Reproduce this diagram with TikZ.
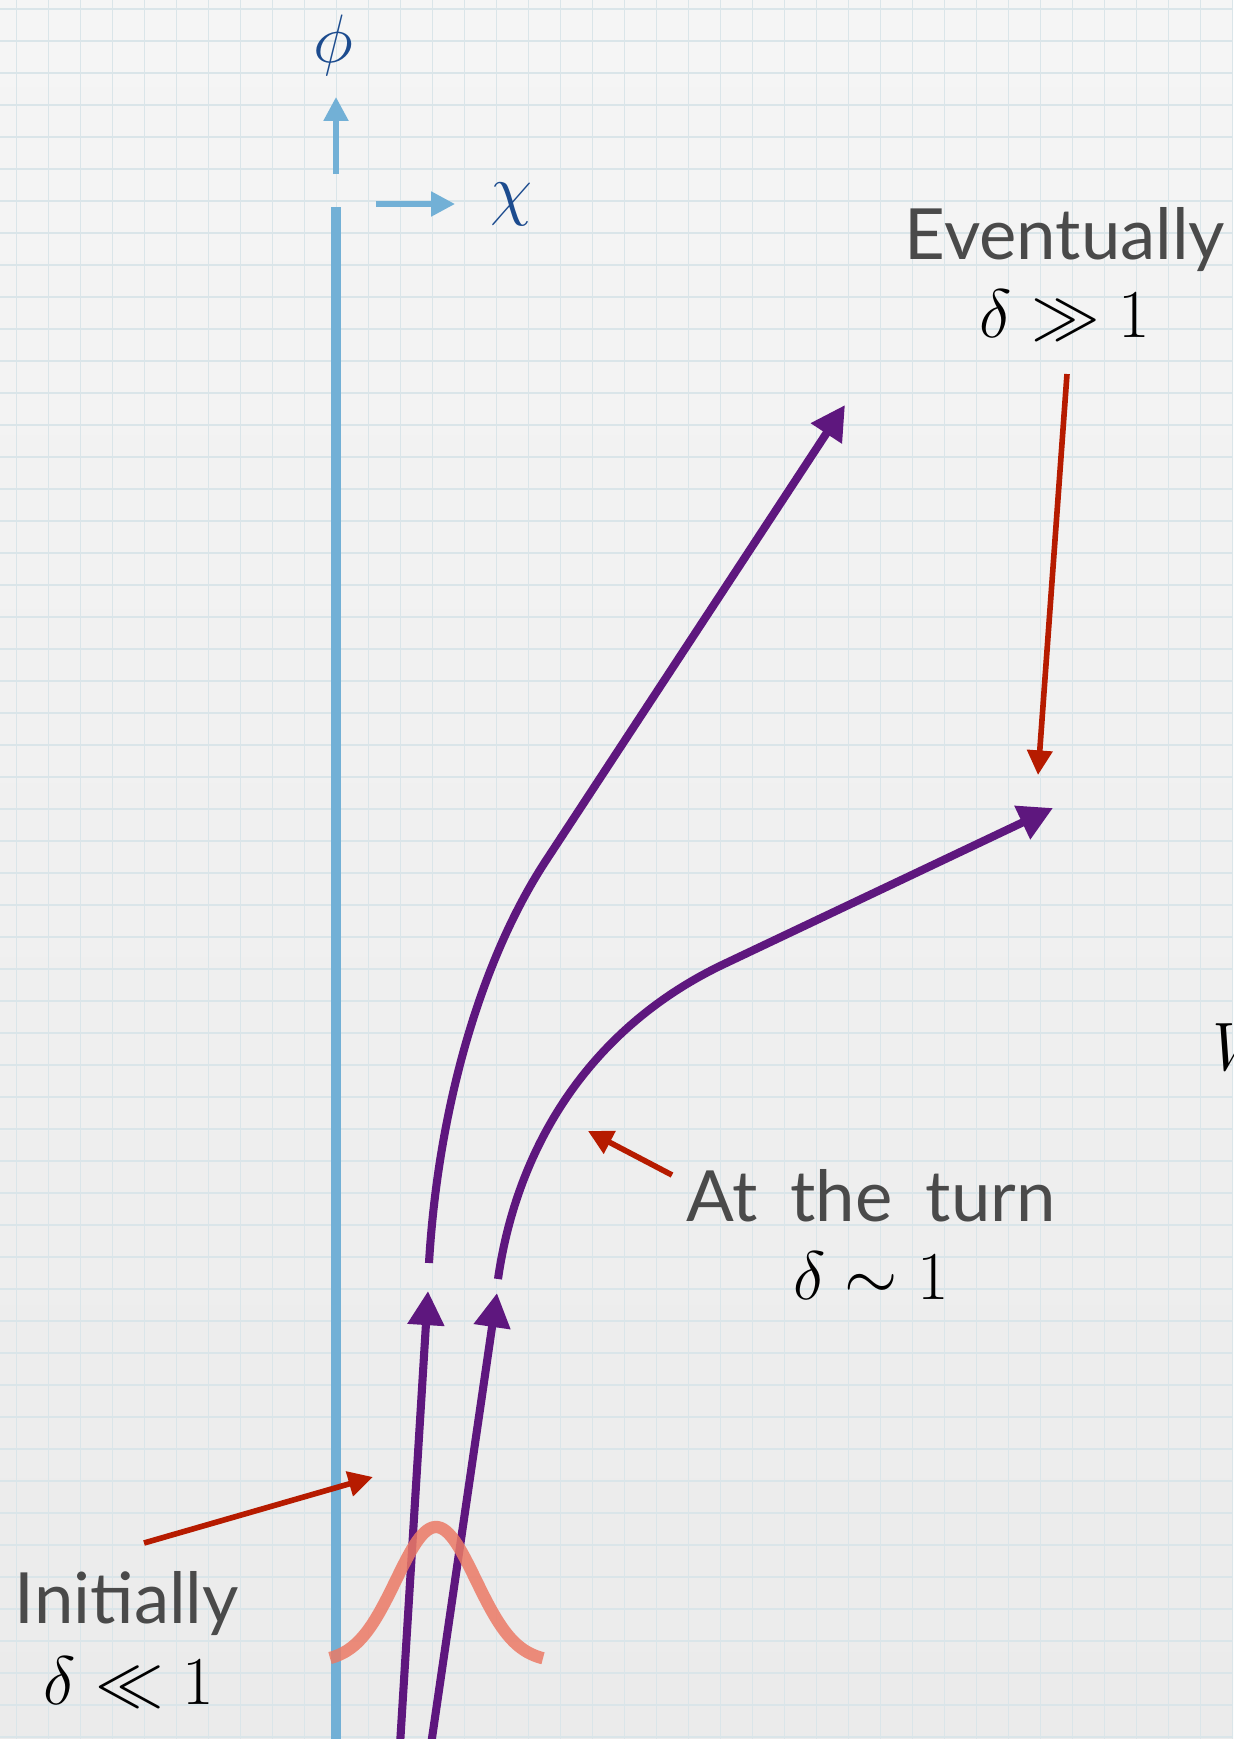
\RequirePackage{fix-cm}
\documentclass[tikz,border=0pt]{standalone}
\usepackage[no-math]{fontspec}
\newfontfamily\labelfont{Lato}
\usetikzlibrary{arrows.meta}
\definecolor{bgtop}{HTML}{F5F5F5}
\definecolor{bgbot}{HTML}{EBEBEB}
\definecolor{gridc}{HTML}{DAE5E9}
\definecolor{axisblue}{HTML}{72B0D6}
\definecolor{labblue}{HTML}{1C4B8E}
\definecolor{traj}{HTML}{5E177E}
\definecolor{pointer}{HTML}{B61B00}
\definecolor{gauss}{HTML}{EB7A66}
\definecolor{txtgrey}{HTML}{4A4A4A}
\begin{document}
\begin{tikzpicture}[x=0.1mm,y=-0.1mm,
  gridline/.style={draw=gridc, line width=0.55pt},
  axisline/.style={draw=axisblue, line width=2.85pt},
  axisarrow/.style={draw=axisblue, line width=1.5pt, -{Triangle[length=6.8pt,width=6.8pt]}},
  axislabel/.style={text=labblue, font=\fontsize{19.5}{23}\selectfont, inner sep=0pt, anchor=base},
  trajline/.style={draw=traj, line width=2.3pt, -{Triangle[length=9.7pt,width=10pt]}},
  pointerline/.style={draw=pointer, line width=1.6pt, -{Triangle[length=7pt,width=7pt]}},
  wordlabel/.style={text=txtgrey, font=\labelfont\fontsize{20.1}{24}\selectfont, inner sep=0pt, anchor=base},
  mathlabel/.style={text=black, font=\fontsize{19.5}{23}\selectfont, inner sep=0pt, anchor=base},
  gaussline/.style={draw=gauss, line width=3.5pt, draw opacity=0.85}
]
\useasboundingbox (0,0) rectangle (1233,1739);
\clip (0,0) rectangle (1233,1739);
% background
\shade[top color=bgtop, bottom color=bgbot] (0,0) rectangle (1233,1739);
\foreach \i in {0,...,38} {
  \draw[gridline] ({16.5+32*\i},0) -- ({16.5+32*\i},1739);
}
\foreach \j in {0,...,54} {
  \draw[gridline] (0,{9+32*\j}) -- (1233,{9+32*\j});
}
% axes
\coordinate (axtop) at (336,207);
\coordinate (axbot) at (336,1745);
\draw[axisline] (axtop) -- (axbot);
\coordinate (phistart) at (336,174);
\coordinate (phitip) at (336,97);
\draw[axisarrow] (phistart) -- (phitip);
\coordinate (chistart) at (376,204);
\coordinate (chitip) at (455,204);
\draw[axisarrow] (chistart) -- (chitip);
\node[axislabel] (phi) at (333,62) {$\phi$};
\node[axislabel] (chi) at (512,212) {$\chi$};
% trajectories: initial straight parts
\coordinate (s1a) at (400,1745);
\coordinate (s1b) at (428,1291);
\coordinate (s2a) at (431,1745);
\coordinate (s2b) at (497,1293);
\draw[trajline] (s1a) -- (s1b);
\draw[trajline] (s2a) -- (s2b);
% trajectories: curved parts
\coordinate (c1a) at (429,1263);
\coordinate (c1k) at (545,862);
\coordinate (c1tip) at (845,405);
\draw[trajline] (c1a) .. controls (438,1110) and (480,962) .. (c1k) -- (c1tip);
\coordinate (c2a) at (498,1279);
\coordinate (c2k) at (722,965);
\coordinate (c2tip) at (1053,808);
\draw[trajline] (c2a) .. controls (518,1140) and (595,1026) .. (c2k) -- (c2tip);
% labels
\node[wordlabel] (eventually) at (1065,259) {Eventually};
\node[mathlabel] (evmath) at (1065,337) {$\delta\gg1$};
\node[wordlabel] (turn) at (871,1221) {At\hspace{3.3mm}the\hspace{3.3mm}turn};
\node[mathlabel] (turnmath) at (871,1299) {$\delta\sim1$};
\node[wordlabel] (initially) at (127,1623) {Initially};
\node[mathlabel] (initmath) at (129,1704) {$\delta\ll1$};
\node[mathlabel, anchor=base west] (edgeletter) at (1212,1070) {$W$};
% pointers
\coordinate (p1a) at (1067,374);
\coordinate (p1b) at (1038,775);
\draw[pointerline] (p1a) -- (p1b);
\coordinate (p2a) at (672,1175);
\coordinate (p2b) at (588,1131);
\draw[pointerline] (p2a) -- (p2b);
\coordinate (p3a) at (144,1543);
\coordinate (p3b) at (373,1477);
\draw[pointerline] (p3a) -- (p3b);
% gaussian
\draw[gaussline] plot[domain=330:543, samples=80, smooth] (\x, {1662-135*exp(-((\x-436)*(\x-436))/3200)});
\end{tikzpicture}
\end{document}
